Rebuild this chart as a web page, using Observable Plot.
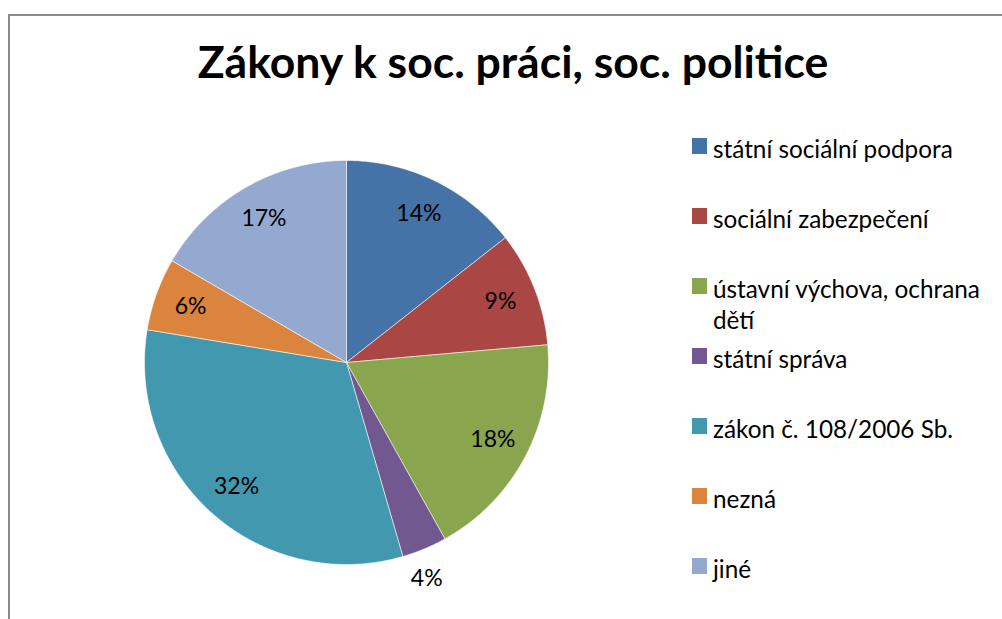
<!DOCTYPE html>
<html>
<head>
<meta charset="utf-8">
<script src="https://cdn.jsdelivr.net/npm/d3@7"></script>
<script src="https://cdn.jsdelivr.net/npm/@observablehq/plot@0.6"></script>
<style>
  html, body { margin: 0; padding: 0; background: #fff; }
  body { width: 1002px; height: 619px; position: relative; overflow: hidden; font-family: Lato, "Open Sans", sans-serif; }
  #frame { position: absolute; left: 8px; top: 14px; width: 1100px; height: 700px; border-left: 2px solid #8c8c8c; border-top: 2px solid #8c8c8c; box-sizing: border-box; }
  #chart { position: absolute; left: 0; top: 0; }
  #title { position: absolute; left: 0; width: 1026px; top: 34px; text-align: center; font-weight: bold; font-size: 44.5px; color: #000; white-space: nowrap; }
  .legrow { position: absolute; left: 692px; display: flex; align-items: flex-start; font-size: 24.3px; color: #000; }
  .legrow .sw { width: 15px; height: 16px; flex: none; margin-top: 5px; margin-right: 6px; }
  .legrow .tx { width: 292px; line-height: 31px; margin-top: 0px; }
</style>
</head>
<body>
<div id="frame"></div>
<div id="chart"></div>
<div id="title">Zákony k soc. práci, soc. politice</div>
<div id="legend"></div>
<script>
// ---- data ----
const categories = [
  "státní sociální podpora",
  "sociální zabezpečení",
  "ústavní výchova, ochrana dětí",
  "státní správa",
  "zákon č. 108/2006 Sb.",
  "nezná",
  "jiné"
];
const shares = [14.4, 9.2, 18.3, 3.6, 32.1, 5.8, 16.6];
const colors = ["#4572A7", "#AA4643", "#89A54E", "#71588F", "#4198AF", "#DB843D", "#93A9CF"];
const percentLabels = ["14%", "9%", "18%", "4%", "32%", "6%", "17%"];

// ---- build slices ----
const data = categories.map((name, i) => ({name, value: shares[i], label: percentLabels[i]}));
const arcs = d3.pie().sort(null).value(d => d.value)(data);

const polyPts = [];
arcs.forEach(a => {
  const n = Math.max(2, Math.ceil((a.endAngle - a.startAngle) / 0.01));
  polyPts.push({name: a.data.name, x: 0, y: 0});
  for (let k = 0; k <= n; k++) {
    const t = a.startAngle + (a.endAngle - a.startAngle) * k / n;
    polyPts.push({name: a.data.name, x: Math.sin(t), y: Math.cos(t)});
  }
  polyPts.push({name: a.data.name, x: 0, y: 0});
});

const labelPts = arcs.map(a => {
  const m = (a.startAngle + a.endAngle) / 2;
  const small = a.data.value < 5;
  const r = small ? 1.14 : 0.82;
  const mm = small ? m + 0.04 : m;
  return {label: a.data.label, x: Math.sin(mm) * r, y: Math.cos(mm) * r};
});

const W = 1002, H = 619;
const cx = 346, cy = 362, R = 202;

const plot = Plot.plot({
  width: W,
  height: H,
  marginLeft: cx - R,
  marginRight: W - (cx + R),
  marginTop: cy - R,
  marginBottom: H - (cy + R),
  x: {domain: [-1, 1], axis: null},
  y: {domain: [-1, 1], axis: null},
  color: {domain: categories, range: colors},
  style: {background: "transparent", fontFamily: "Lato, 'Open Sans', sans-serif"},
  marks: [
    Plot.line(polyPts, {x: "x", y: "y", z: "name", fill: "name", stroke: "#ffffff", strokeWidth: 0.7, strokeOpacity: 0.8, curve: "linear-closed"}),
    Plot.text(labelPts, {x: "x", y: "y", text: "label", fontSize: 23, fill: "#000"})
  ]
});
document.getElementById("chart").appendChild(plot);

// ---- legend ----
const legend = document.getElementById("legend");
categories.forEach((name, i) => {
  const row = document.createElement("div");
  row.className = "legrow";
  row.style.top = (133 + i * 70) + "px";
  const sw = document.createElement("div");
  sw.className = "sw";
  sw.style.background = colors[i];
  const tx = document.createElement("div");
  tx.className = "tx";
  tx.textContent = name;
  row.appendChild(sw);
  row.appendChild(tx);
  legend.appendChild(row);
});
</script>
</body>
</html>
